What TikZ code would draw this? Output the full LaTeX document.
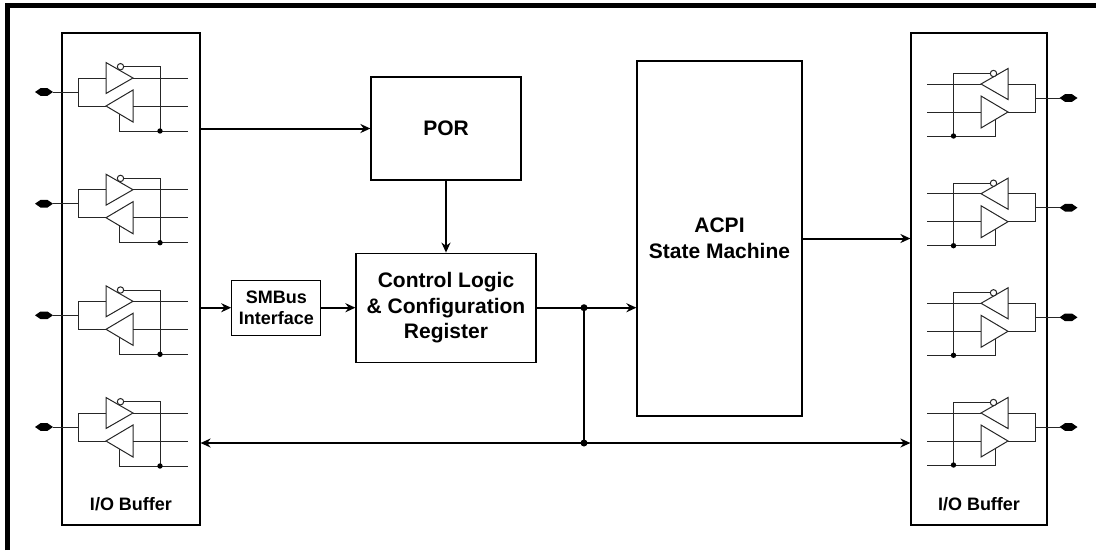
\documentclass[tikz,border=0pt]{standalone}
\usepackage{fontspec}
\setmainfont{Liberation Sans}
\usetikzlibrary{arrows.meta,positioning}

\begin{document}
\begin{tikzpicture}[x=1pt,y=-1pt,>={Stealth[length=10pt,width=9pt]},node distance=34pt]
\tikzstyle{block}=[draw=black,line width=1.2pt,inner sep=0pt,align=center,
                   font=\bfseries\fontsize{21}{25.5}\selectfont]
\tikzstyle{iolabel}=[anchor=base,font=\bfseries\fontsize{18}{21}\selectfont]
\tikzstyle{wire}=[->,line width=2pt]
\tikzstyle{cell}=[line width=1pt,draw=black!85]
\tikzstyle{dot}=[circle,fill=black,inner sep=0pt,minimum size=7pt]
\useasboundingbox (0,0) rectangle (1096,550);
% frame, only top and left are in view
\draw[line width=5pt] (7.5,550) -- (7.5,5.5) -- (1096,5.5);

% blocks
\node[block,minimum width=138pt,minimum height=492pt] (lio) at (131,279) {};
\node[block,minimum width=136pt,minimum height=492pt] (rio) at (979,279) {};
\node[iolabel] (liotxt) at ([yshift=15pt]lio.south) {I/O Buffer};
\node[iolabel] (riotxt) at ([yshift=15pt]rio.south) {I/O Buffer};
\node[block,minimum width=150pt,minimum height=103pt] (por) at (446,128.5) {POR};
\node[block,minimum width=180pt,minimum height=109pt] (ctrl) [below=72pt of por]
     {Control Logic\\\& Configuration\\Register};
\node[block,minimum width=89pt,minimum height=55pt,
      font=\bfseries\fontsize{18}{21}\selectfont] (smb) [left=of ctrl]
     {SMBus\\Interface};
\node[block,minimum width=165pt,minimum height=355pt] (acpi) at (719.5,238.5)
     {ACPI\\State Machine};

% buffer cells
\foreach \py in {92,203.7,315.3,427}{
  \begin{scope}[shift={(44,\py)}]
    \fill (-9,0) -- (-3.5,-3.8) -- (3.5,-3.8) -- (9,0) -- (3.5,3.8) -- (-3.5,3.8) -- cycle;
    \draw[cell] (9,0) -- (34,0) (34,-14) -- (34,14);
    \draw[cell] (34,-14) -- (62,-14) (34,14) -- (62,14);
    \draw[cell] (62,-29.5) -- (89,-14) -- (62,1.5) -- cycle;
    \draw[cell] (89,-2) -- (62,14) -- (89,30) -- cycle;
    \draw[cell] (89,-14) -- (144,-14) (89,14) -- (144,14);
    \draw[cell] (79.7,-25.3) -- (116,-25.3) -- (116,39);
    \draw[cell] (75,21.7) -- (75,39) -- (144,39);
    \draw[cell,fill=white] (76.5,-25.3) circle[radius=3.2pt];
    \fill (116,39) circle[radius=2.7pt];
  \end{scope}
}
\foreach \py in {98,207.7,317.3,427}{
  \begin{scope}[shift={(1068.5,\py)},xscale=-1]
    \fill (-9,0) -- (-3.5,-3.8) -- (3.5,-3.8) -- (9,0) -- (3.5,3.8) -- (-3.5,3.8) -- cycle;
    \draw[cell] (9,0) -- (33,0) (33,-14) -- (33,14);
    \draw[cell] (33,-14) -- (60.5,-14) (33,14) -- (60.5,14);
    \draw[cell] (60.5,-29.5) -- (87.5,-14) -- (60.5,1.5) -- cycle;
    \draw[cell] (87.5,-2) -- (60.5,14) -- (87.5,30) -- cycle;
    \draw[cell] (87.5,-14) -- (142,-14) (87.5,14) -- (142,14);
    \draw[cell] (78.2,-24.5) -- (115,-24.5) -- (115,38);
    \draw[cell] (73.5,21.7) -- (73.5,38) -- (142,38);
    \draw[cell,fill=white] (75,-24.5) circle[radius=3.2pt];
    \fill (115,38) circle[radius=2.7pt];
  \end{scope}
}

% connectors
\node[dot] (tap) at (584,0 |- ctrl.east) {};
\node[dot] (bus) at (tap |- 0,443) {};
\draw[wire] (lio.east |- por.west) -- (por.west);
\draw[wire] (por) -- (ctrl);
\draw[wire] (lio.east |- smb.west) -- (smb.west);
\draw[wire] (smb) -- (ctrl);
\draw[wire] (ctrl.east) -- (acpi.west |- ctrl.east);
\draw[line width=2pt] (tap.center) -- (bus.center);
\draw[wire] (bus.center) -- (lio.east |- bus);
\draw[wire] (bus.center) -- (rio.west |- bus);
\draw[wire] (acpi.east) -- (rio.west |- acpi.east);
\end{tikzpicture}
\end{document}
